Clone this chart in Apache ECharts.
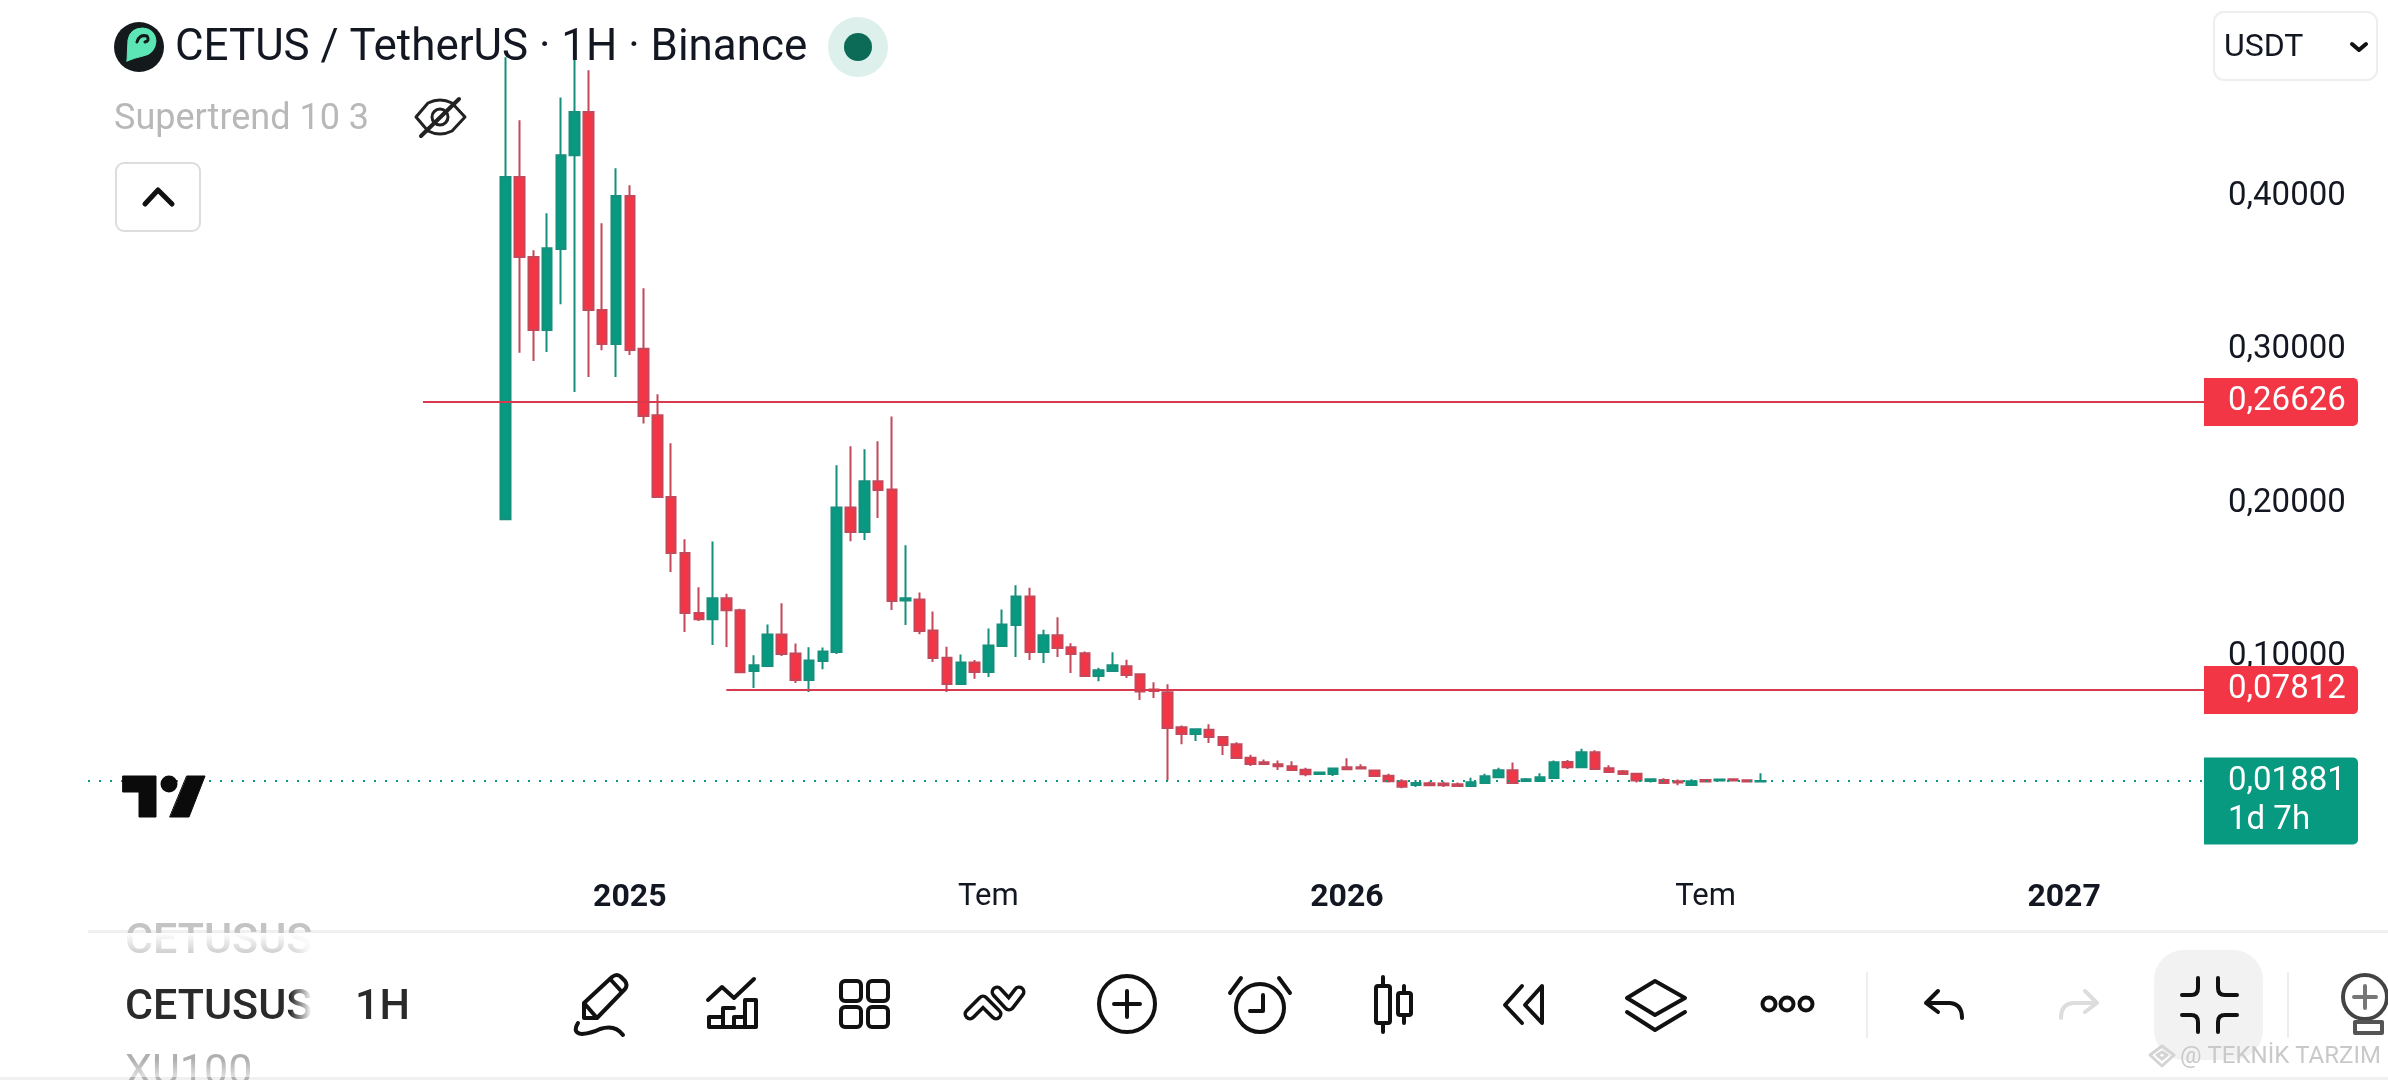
<!DOCTYPE html>
<html><head><meta charset="utf-8">
<style>html,body{margin:0;padding:0;background:#fff}#c{width:2388px;height:1080px}</style>
<script src="https://cdn.jsdelivr.net/npm/echarts@6/dist/echarts.min.js"></script>
</head><body><div id="c"></div>
<script>
const weeks=['2024-11-04','2024-11-11','2024-11-18','2024-11-25','2024-12-02','2024-12-09','2024-12-16','2024-12-23','2024-12-30',
'2025-01-06','2025-01-13','2025-01-20','2025-01-27','2025-02-03','2025-02-10','2025-02-17','2025-02-24','2025-03-03','2025-03-10','2025-03-17','2025-03-24','2025-03-31',
'2025-04-07','2025-04-14','2025-04-21','2025-04-28','2025-05-05','2025-05-12','2025-05-19','2025-05-26','2025-06-02','2025-06-09','2025-06-16','2025-06-23','2025-06-30',
'2025-07-07','2025-07-14','2025-07-21','2025-07-28','2025-08-04','2025-08-11','2025-08-18','2025-08-25','2025-09-01','2025-09-08','2025-09-15','2025-09-22','2025-09-29',
'2025-10-06','2025-10-13','2025-10-20','2025-10-27','2025-11-03','2025-11-10','2025-11-17','2025-11-24','2025-12-01','2025-12-08','2025-12-15','2025-12-22','2025-12-29',
'2026-01-05','2026-01-12','2026-01-19','2026-01-26','2026-02-02','2026-02-09','2026-02-16','2026-02-23','2026-03-02','2026-03-09','2026-03-16','2026-03-23','2026-03-30',
'2026-04-06','2026-04-13','2026-04-20','2026-04-27','2026-05-04','2026-05-11','2026-05-18','2026-05-25','2026-06-01','2026-06-08','2026-06-15','2026-06-22','2026-06-29',
'2026-07-06','2026-07-13','2026-07-20','2026-07-27','2026-08-03'];
const opens=[.1896,.4131,.3608,.3132,.3661,.4272,.4555,.3262,.3040,.4007,.3010,.2575,.2042,.1676,.1285,.1243,.1381,.1302,.0906,.0939,.1144,.1020,.0847,.0971,.1030,.1973,.1813,.2144,.2090,.1367,.1372,.1170,.0993,.0821,.0961,.0899,.1069,.1206,.1392,.1030,.1139,.1061,.1022,.0873,.0906,.0937,.0884,.0785,.0767,.0539,.0495,.0523,.0475,.0428,.0340,.0310,.0297,.0284,.0262,.0234,.0234,.0277,.0277,.0256,.0223,.0186,.0162,.0173,.0171,.0166,.0155,.0175,.0212,.0258,.0188,.0188,.0208,.0312,.0277,.0375,.0271,.0251,.0236,.0188,.0195,.0186,.0162,.0195,.0191,.0199,.0193,.0184];
const closes=[.4131,.3608,.3132,.3665,.4272,.4555,.3262,.3040,.4007,.3001,.2570,.2042,.1676,.1285,.1243,.1381,.1302,.0898,.0943,.1144,.1017,.0847,.0974,.1033,.1973,.1813,.2144,.2087,.1363,.1381,.1167,.0991,.0821,.0961,.0899,.1072,.1209,.1392,.1030,.1139,.1056,.1017,.0873,.0911,.0943,.0880,.0772,.0775,.0534,.0495,.0525,.0475,.0423,.0338,.0299,.0299,.0284,.0260,.0232,.0243,.0269,.0264,.0269,.0221,.0186,.0151,.0175,.0160,.0160,.0155,.0180,.0219,.0258,.0175,.0199,.0212,.0310,.0277,.0375,.0266,.0247,.0234,.0191,.0199,.0175,.0178,.0186,.0184,.0197,.0191,.0184,.01881];
const lows=[.1896,.2984,.2930,.2988,.3300,.2727,.2825,.2999,.2825,.2969,.2521,.2042,.1552,.1161,.1232,.1076,.1063,.0891,.0795,.0939,.1004,.0828,.0769,.0917,.1017,.1753,.1761,.1905,.1304,.1206,.1146,.0965,.0769,.0821,.0856,.0867,.1069,.0997,.0978,.0958,.0997,.0893,.0873,.0839,.0906,.0860,.0717,.0730,.0193,.0428,.0449,.0436,.0358,.0338,.0286,.0297,.0260,.0258,.0219,.0227,.0221,.0260,.0264,.0221,.0178,.0140,.0149,.0160,.0149,.0151,.0155,.0175,.0212,.0175,.0188,.0188,.0208,.0266,.0271,.0266,.0247,.0227,.0178,.0178,.0175,.0160,.0162,.0178,.0188,.0186,.0178,.0178];
const highs=[.4912,.4501,.3652,.3894,.4649,.4899,.4827,.3828,.4187,.4076,.3404,.2712,.2392,.1766,.1452,.1751,.1411,.1313,.1008,.1209,.1348,.1085,.1061,.1059,.2249,.2373,.2353,.2405,.2567,.1727,.1418,.1294,.1065,.1013,.0978,.1183,.1307,.1465,.1450,.1176,.1257,.1087,.1033,.0928,.1028,.0980,.0889,.0832,.0819,.0550,.0532,.0558,.0480,.0441,.0360,.0328,.0321,.0317,.0275,.0247,.0275,.0336,.0297,.0258,.0236,.0199,.0195,.0184,.0184,.0178,.0210,.0236,.0275,.0308,.0208,.0238,.0321,.0325,.0399,.0388,.0290,.0260,.0238,.0199,.0206,.0197,.0199,.0199,.0199,.0206,.0199,.0238];
const priceTicks=[0.1,0.2,0.3,0.4];
const timeTickDates=['2025-01-06','2025-07-07','2026-01-05','2026-07-06','2027-01-04'];
const timeTickLabels=['2025','Tem','2026','Tem','2027'];
const resistanceLevel=0.26626, supportLevel=0.07812, lastPrice=0.01881;
const axisStart='2024-04-06', axisEnd='2027-03-16';
const resistanceStart='2024-09-23', supportStart='2025-02-24';

const UP='#089981', DOWN='#F23645', INK='#131722';
const FONT='Roboto';
const ms=d=>Date.parse(d+'T00:00:00Z');
const fmtPrice=v=>v.toFixed(5).replace('.',',');
const tickTime=timeTickDates.map(ms);

const chrome=[], paths=[];
const stroke=(d,o={})=>paths.push([d,{fill:o.fill||'none',stroke:o.stroke===undefined?'#111':o.stroke,lineWidth:o.w||4,lineCap:'round',lineJoin:'round'}]);
const text=(t,x,y,size,color,o={})=>chrome.push({type:'text',x,y,z:o.z||21,silent:true,style:{text:t,font:(o.weight||'400')+' '+size+'px '+FONT,fill:color,textAlign:o.align||'left',textVerticalAlign:'middle'}});
const rect=(x,y,w,h,o={})=>chrome.push({type:'rect',shape:{x,y,width:w,height:h,r:o.r||0},z:o.z||20,silent:true,style:{fill:o.fill||'none',stroke:o.stroke||null,lineWidth:o.w||0}});
const circ=(cx,cy,r,o={})=>chrome.push({type:'circle',shape:{cx,cy,r},z:o.z||20,silent:true,style:{fill:o.fill||'none',stroke:o.stroke||null,lineWidth:o.w||0}});
const grad=(x0,y0,x1,y1,a,b)=>({type:'linear',x:x0,y:y0,x2:x1,y2:y1,colorStops:[{offset:0,color:a},{offset:1,color:b}]});

// header
circ(139,47,25,{fill:'#141A1C'});
stroke('M127 61 L128 40 Q130 28 143 28 Q155 29 156 41 Q155 54 143 56 Q134 58 127 61 Z',{fill:'#5CE6B5',stroke:'#5CE6B5',w:1});
stroke('M137 42 Q139 34 147 36 M147 36 Q150 41 145 42',{stroke:'#141A1C',w:3});
text('CETUS / TetherUS · 1H · Binance',175,49,43.9,'#131722');
circ(858,47,30,{fill:'#DDF0EC'}); circ(858,47,14,{fill:'#0B6B57'});
text('Supertrend 10 3',114,120,36,'#B8B8B8');
stroke('M416 117 L428 103 Q440 97 452 103 L465 117 L452 131 Q440 137 428 131 Z',{stroke:'#222',w:3});
circ(440,117,8,{stroke:'#222',w:3,z:25});
stroke('M421 136 L459 99',{stroke:'#222',w:4});
rect(116,163,84,68,{r:8,stroke:'#DDDDDD',w:2,fill:'#fff'});
stroke('M145 204 L158 190 L172 204',{stroke:'#111',w:5});
rect(2214,12,163,68,{r:10,stroke:'#EEEEEE',w:2,fill:'#fff'});
text('USDT',2224,48,32,'#131722');
stroke('M2352 44 L2359 50 L2366 44',{stroke:'#111',w:4});
// tv logo
stroke('M123 776 L156 776 L156 817 L139 817 L139 792 L123 792 Z',{fill:'#0B0B0B',stroke:'#0B0B0B',w:1});
circ(169,784,8.5,{fill:'#0B0B0B'});
stroke('M187 776 L205 776 L189 817 L170 817 Z',{fill:'#0B0B0B',stroke:'#0B0B0B',w:1});
// footer
rect(88,930,2300,3,{fill:'#F0F0F0'});
rect(0,1077,2388,3,{fill:'#F0F0F0'});
text('CETUSUS',125,942,43,'#C4C4C4',{weight:'500'});
text('CETUSUS',125,1008,43,'#2A2A2A',{weight:'500'});
text('XU100',125,1073,43,'#B0B0B0',{weight:'400'});
rect(290,934,22,143,{fill:grad(0,0,1,0,'rgba(255,255,255,0)','#fff'),z:22});
rect(312,934,40,143,{fill:'#fff',z:22});
rect(100,933,240,20,{fill:grad(0,0,0,1,'#fff','rgba(255,255,255,0.2)'),z:22});
rect(100,1060,240,17,{fill:grad(0,0,0,1,'rgba(255,255,255,0)','rgba(255,255,255,0.6)'),z:22});
text('1H',355,1008,43,'#2A2A2A',{weight:'500',z:23});
// toolbar icons
stroke('M584 1018 L584 1003 L612 977 Q617 973 621 977 L625 981 Q628 985 625 989 L597 1018 Z M584 1003 L597 1018 M611 980 L622 992');
stroke('M578 1023 Q572 1033 582 1034 Q592 1033 600 1029 Q615 1024 623 1035');
stroke('M708 1000 L722 987 L734 998 L754 979');
stroke('M709 1027 L756 1027 L756 1000 L745 1000 L745 1027 M745 1017 L734 1017 L734 1027 M734 1008 L723 1008 L723 1027 M723 1017 L709 1017 L709 1027');
rect(841,981,20,20,{r:4,stroke:'#111',w:4}); rect(868,981,20,20,{r:4,stroke:'#111',w:4});
rect(841,1007,20,20,{r:4,stroke:'#111',w:4}); rect(868,1007,20,20,{r:4,stroke:'#111',w:4});
stroke('M970 1014 L983 1001 L996 1014',{w:13});
stroke('M970 1014 L983 1001 L996 1014',{w:6,stroke:'#fff'});
stroke('M997 992 L1009 1005 L1019 992',{w:13});
stroke('M997 992 L1009 1005 L1019 992',{w:6,stroke:'#fff'});
circ(1127,1004,28,{stroke:'#111',w:4});
stroke('M1114 1004 L1140 1004 M1127 991 L1127 1017');
circ(1260,1008,24,{stroke:'#111',w:4});
stroke('M1250 1011 L1263 1011 L1263 995');
stroke('M1230 993 L1241 978 M1290 993 L1279 978');
rect(1376,986,14,37,{r:2,stroke:'#111',w:4}); rect(1398,993,13,22,{r:2,stroke:'#111',w:4});
stroke('M1383 977 L1383 986 M1383 1023 L1383 1032 M1404 986 L1404 993 M1404 1015 L1404 1023');
stroke('M1522 986 L1505 1005 L1522 1023 M1542 986 L1525 1005 L1542 1023 Z');
stroke('M1655 981 L1685 998 L1655 1015 L1627 998 Z M1627 1012 L1655 1030 L1685 1012');
[1769,1787,1806].forEach(x=>circ(x,1004,6.5,{stroke:'#111',w:4}));
rect(1866,972,2,66,{fill:'#EEEEEE'});
stroke('M1938 991 L1926 1003 L1938 1012 M1926 1003 L1950 1003 Q1962 1004 1962 1018');
stroke('M2085 991 L2097 1003 L2085 1012 M2097 1003 L2073 1003 Q2061 1004 2061 1018',{stroke:'#DDDDDD'});
rect(2154,950,109,110,{r:30,fill:'#F2F2F2'});
stroke('M2198 978 L2198 988 Q2198 995 2191 995 L2182 995 M2218 978 L2218 988 Q2218 995 2225 995 L2237 995 M2182 1015 L2191 1015 Q2198 1015 2198 1022 L2198 1032 M2237 1015 L2225 1015 Q2218 1015 2218 1022 L2218 1032');
rect(2287,972,2,66,{fill:'#EEEEEE'});
circ(2365,997,22,{stroke:'#444',w:4});
stroke('M2354 997 L2376 997 M2365 986 L2365 1008',{stroke:'#777'});
stroke('M2355 1022 L2382 1022 L2382 1033 L2355 1033 Z',{stroke:'#555'});
stroke('M2162 1046 L2174 1055 L2162 1066 L2150 1055 Z M2162 1052 L2167 1055 L2162 1059 L2157 1055 Z',{stroke:'#D4D4D4',w:3});
text('@ TEKNİK TARZIM',2180,1057,24,'#C9C9C9',{z:26});

const chart=echarts.init(document.getElementById('c'),null,{renderer:'canvas'});
chart.setOption({
  animation:false,
  backgroundColor:'#fff',
  grid:{left:88,width:2116,top:43.8,height:766,containLabel:false},
  xAxis:{type:'value',min:ms(axisStart),max:ms(axisEnd),
    axisLine:{show:false},axisTick:{show:false},splitLine:{show:false},
    axisLabel:{customValues:tickTime,margin:72,
      formatter:v=>{const t=timeTickLabels[tickTime.indexOf(+v)];return /^\d/.test(t)?'{y|'+t+'}':'{m|'+t+'}';},
      rich:{y:{fontFamily:FONT,fontWeight:'700',fontSize:32,color:INK},m:{fontFamily:FONT,fontSize:31,color:INK}}}},
  yAxis:{type:'value',min:0,max:0.5,interval:0.1,position:'right',
    axisLine:{show:false},axisTick:{show:false},splitLine:{show:false},
    axisLabel:{customValues:priceTicks,margin:24,align:'left',fontFamily:FONT,fontSize:33,color:INK,padding:[0,0,7,0],
      formatter:v=>fmtPrice(v)}},
  graphic:{elements:chrome},
  series:[{type:'candlestick',barWidth:10,encode:{x:0,y:[1,2,3,4]},
    itemStyle:{color:UP,color0:DOWN,borderColor:'#15907C',borderColor0:'#C4475A',borderWidth:2},
    data:weeks.map((w,i)=>[ms(w),opens[i],closes[i],lows[i],highs[i]]),
    markLine:{silent:true,symbol:'none',animation:false,
      lineStyle:{type:'solid',width:2,color:'#D9394C'},
      label:{position:'end',distance:0,fontFamily:FONT,fontSize:33,color:'#fff',align:'left'},
      data:[
        [{coord:[ms(resistanceStart),resistanceLevel],label:{formatter:fmtPrice(resistanceLevel),backgroundColor:DOWN,width:128,height:36,padding:[3,2,9,24],borderRadius:[0,5,5,0]}},{coord:[ms(axisEnd),resistanceLevel]}],
        [{coord:[ms(supportStart),supportLevel],label:{formatter:fmtPrice(supportLevel),backgroundColor:DOWN,width:128,height:36,padding:[3,2,9,24],borderRadius:[0,5,5,0]}},{coord:[ms(axisEnd),supportLevel]}],
        [{coord:[ms(axisStart),lastPrice],lineStyle:{type:[2,9],width:2,color:UP},label:{formatter:fmtPrice(lastPrice)+'\n1d 7h',backgroundColor:UP,width:128,height:84,lineHeight:39,padding:[0,2,3,24],offset:[0,20],borderRadius:[0,5,5,0]}},{coord:[ms(axisEnd),lastPrice]}]
      ]}
  }]
});
const zr=chart.getZr();
paths.forEach(([d,style])=>zr.add(echarts.graphic.makePath(d,{style,z:25,silent:true})));
</script></body></html>
